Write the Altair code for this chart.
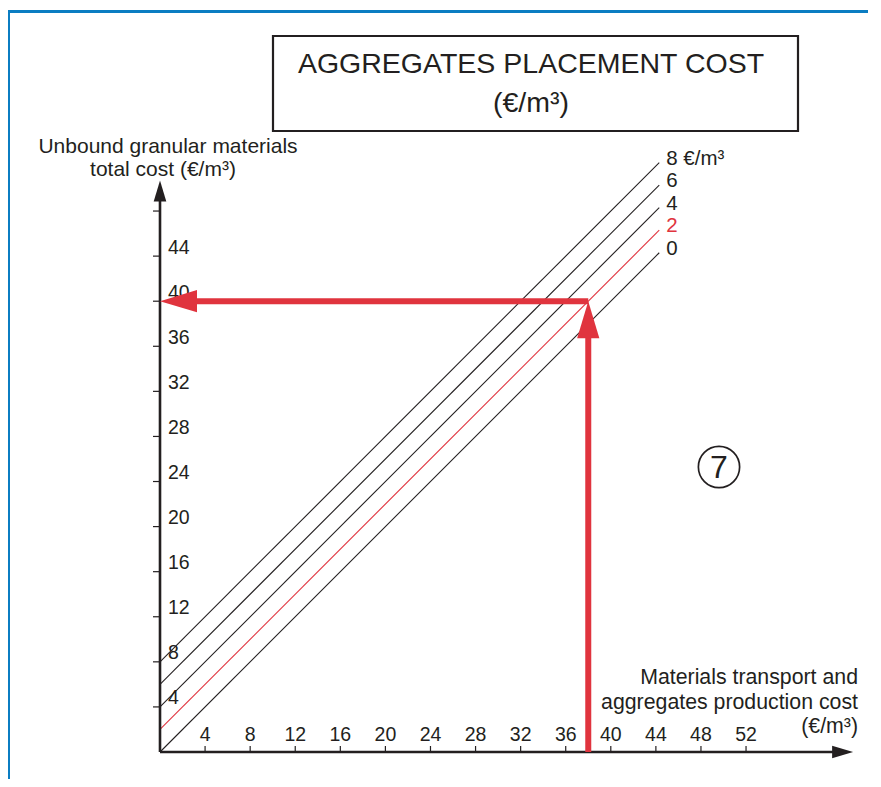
import altair as alt
import pandas as pd

# ---------------- data ----------------
x_ticks = [4, 8, 12, 16, 20, 24, 28, 32, 36, 40, 44, 48, 52]
y_ticks = [4, 8, 12, 16, 20, 24, 28, 32, 36, 40, 44, 48]
y_tick_labels = [4, 8, 12, 16, 20, 24, 28, 32, 36, 40, 44]
placement_costs = [0, 2, 4, 6, 8]
placement_labels = ["0", "2", "4", "6", "8 €/m³"]
line_start_x = 0
line_end_x = 44.3
example_transport = 38      # €/m3 materials transport + production
example_placement = 2       # €/m3 placement cost (red line)
x_axis_end = 61.5
y_axis_end = 50.7

title_lines = ["AGGREGATES PLACEMENT COST", "(€/m³)"]
y_title_lines = ["Unbound granular materials", "total cost (€/m³)"]
x_title_lines = ["Materials transport and", "aggregates production cost", "(€/m³)"]
badge = "7"

# ---------------- styling / layout ----------------
W, H = 860, 771
OX, OY, PX = 152, 744, 11.27
INK = "#231f20"
RED = "#e0343e"
BLUE = "#0b7dc2"
FONT = "Liberation Sans"

xs = alt.Scale(domain=[-OX / PX, (W - OX) / PX], nice=False, zero=False, padding=0)
ys = alt.Scale(domain=[(OY - H) / PX, OY / PX], nice=False, zero=False, padding=0)

one = pd.DataFrame({"k": [0]})

# frame
frame = alt.Chart(one).mark_rect(fillOpacity=0, stroke=BLUE, strokeWidth=3).encode(
    x=alt.value(0.5), x2=alt.value(1200), y=alt.value(3.5), y2=alt.value(1200)
)

# title box
title_box = alt.Chart(one).mark_rect(fill="white", stroke=INK, strokeWidth=2.2).encode(
    x=alt.value(265), x2=alt.value(790), y=alt.value(28), y2=alt.value(123)
)
title1 = alt.Chart(one).mark_text(text=title_lines[0], font=FONT, fontSize=28.5, color=INK,
                                  align="center", baseline="alphabetic").encode(
    x=alt.value(523), y=alt.value(65))
title2 = alt.Chart(one).mark_text(text=title_lines[1], font=FONT, fontSize=28.5, color=INK,
                                  align="center", baseline="alphabetic").encode(
    x=alt.value(523), y=alt.value(104))

# diagonal lines
rows = []
for c in placement_costs:
    rows.append({"cost": c, "x": line_start_x, "y": line_start_x + c})
    rows.append({"cost": c, "x": line_end_x, "y": line_end_x + c})
lines_df = pd.DataFrame(rows)
col_range = [RED if c == example_placement else INK for c in placement_costs]
cscale = alt.Scale(domain=placement_costs, range=col_range)

lines = alt.Chart(lines_df).mark_line(strokeWidth=1.1).encode(
    x=alt.X("x:Q", scale=xs, axis=None),
    y=alt.Y("y:Q", scale=ys, axis=None),
    color=alt.Color("cost:O", scale=cscale, legend=None),
    detail="cost:O",
)

lab_df = pd.DataFrame({
    "cost": placement_costs,
    "label": placement_labels,
    "x": [line_end_x] * len(placement_costs),
    "y": [line_end_x + c for c in placement_costs],
})
line_labels = alt.Chart(lab_df).mark_text(font=FONT, fontSize=20.5, align="left",
                                          baseline="alphabetic", dx=7, dy=2).encode(
    x=alt.X("x:Q", scale=xs, axis=None),
    y=alt.Y("y:Q", scale=ys, axis=None),
    text="label:N",
    color=alt.Color("cost:O", scale=cscale, legend=None),
)

# axes
axes_df = pd.DataFrame({"x0": [0, 0], "y0": [0, 0],
                        "x1": [x_axis_end - 1.6, 0], "y1": [0, y_axis_end - 1.6]})
axis_lines = alt.Chart(axes_df).mark_rule(color=INK, strokeWidth=2.6).encode(
    x=alt.X("x0:Q", scale=xs, axis=None), x2="x1:Q",
    y=alt.Y("y0:Q", scale=ys, axis=None), y2="y1:Q",
)
y_arrow = alt.Chart(pd.DataFrame({"x": [0], "y": [y_axis_end]})).mark_point(
    shape="M0,0L0.6,2L-0.6,2Z", size=441, filled=True, opacity=1, color=INK, strokeWidth=0
).encode(x=alt.X("x:Q", scale=xs, axis=None), y=alt.Y("y:Q", scale=ys, axis=None))
x_arrow = alt.Chart(pd.DataFrame({"x": [x_axis_end], "y": [0]})).mark_point(
    shape="M0,0L-2,-0.6L-2,0.6Z", size=441, filled=True, opacity=1, color=INK, strokeWidth=0
).encode(x=alt.X("x:Q", scale=xs, axis=None), y=alt.Y("y:Q", scale=ys, axis=None))

yt_df = pd.DataFrame({"v": y_ticks, "z": [0] * len(y_ticks)})
y_tick_marks = alt.Chart(yt_df).mark_tick(orient="horizontal", size=7, thickness=1.2,
                                          opacity=1, color=INK, xOffset=-3.5).encode(
    x=alt.X("z:Q", scale=xs, axis=None), y=alt.Y("v:Q", scale=ys, axis=None))
xt_df = pd.DataFrame({"v": x_ticks, "z": [0] * len(x_ticks)})
x_tick_marks = alt.Chart(xt_df).mark_tick(orient="vertical", size=6, thickness=1.2,
                                          opacity=1, color=INK, yOffset=-3).encode(
    x=alt.X("v:Q", scale=xs, axis=None), y=alt.Y("z:Q", scale=ys, axis=None))

yl_df = pd.DataFrame({"v": y_tick_labels, "z": [0] * len(y_tick_labels),
                      "t": [str(v) for v in y_tick_labels]})
y_tick_text = alt.Chart(yl_df).mark_text(font=FONT, fontSize=19.5, color=INK, align="left",
                                         baseline="alphabetic", dx=8, dy=-2.5).encode(
    x=alt.X("z:Q", scale=xs, axis=None), y=alt.Y("v:Q", scale=ys, axis=None), text="t:N")
xl_df = pd.DataFrame({"v": x_ticks, "z": [0] * len(x_ticks), "t": [str(v) for v in x_ticks]})
x_tick_text = alt.Chart(xl_df).mark_text(font=FONT, fontSize=19.5, color=INK, align="center",
                                         baseline="alphabetic", dy=-11).encode(
    x=alt.X("v:Q", scale=xs, axis=None), y=alt.Y("z:Q", scale=ys, axis=None), text="t:N")

# axis titles
def txt(s, x, y, align, size=21.3):
    return alt.Chart(one).mark_text(text=s, font=FONT, fontSize=size, color=INK, align=align,
                                    baseline="alphabetic").encode(x=alt.value(x), y=alt.value(y))

y_title = (txt(y_title_lines[0], 160, 145, "center", 21)
           + txt(y_title_lines[1], 155, 168, "center", 21))
x_title = (txt(x_title_lines[0], 850, 676, "right") + txt(x_title_lines[1], 850, 701, "right")
           + txt(x_title_lines[2], 850, 725, "right"))

# example red path
tip_y = example_transport + example_placement
v_shaft = alt.Chart(pd.DataFrame({"x": [example_transport], "y": [0], "y2": [tip_y - 2]})).mark_rule(
    color=RED, strokeWidth=6).encode(
    x=alt.X("x:Q", scale=xs, axis=None), y=alt.Y("y:Q", scale=ys, axis=None), y2="y2:Q")
h_shaft = alt.Chart(pd.DataFrame({"x": [example_transport], "x2": [2], "y": [tip_y]})).mark_rule(
    color=RED, strokeWidth=6).encode(
    x=alt.X("x:Q", scale=xs, axis=None), x2="x2:Q", y=alt.Y("y:Q", scale=ys, axis=None))
v_head = alt.Chart(pd.DataFrame({"x": [example_transport], "y": [tip_y]})).mark_point(
    shape="M0,0L0.6,2L-0.6,2Z", size=1369, filled=True, opacity=1, color=RED, strokeWidth=0
).encode(x=alt.X("x:Q", scale=xs, axis=None), y=alt.Y("y:Q", scale=ys, axis=None))
h_head = alt.Chart(pd.DataFrame({"x": [0], "y": [tip_y]})).mark_point(
    shape="M0,0L2,-0.6L2,0.6Z", size=1369, filled=True, opacity=1, color=RED, strokeWidth=0
).encode(x=alt.X("x:Q", scale=xs, axis=None), y=alt.Y("y:Q", scale=ys, axis=None))

# badge
badge_circle = alt.Chart(one).mark_point(shape="circle", size=1700, filled=False, opacity=1,
                                         color=INK, strokeWidth=1.7).encode(
    x=alt.value(711), y=alt.value(459))
badge_text = alt.Chart(one).mark_text(text=badge, font=FONT, fontSize=32, color=INK,
                                      align="center", baseline="middle").encode(
    x=alt.value(711), y=alt.value(460))

chart = alt.layer(
    frame, lines, line_labels, axis_lines, y_arrow, x_arrow, y_tick_marks, x_tick_marks,
    y_tick_text, x_tick_text, y_title, x_title, v_shaft, h_shaft, v_head, h_head,
    badge_circle, badge_text, title_box, title1, title2,
).properties(
    width=W, height=H, padding=0, autosize=alt.AutoSizeParams(type="none"), background="white"
).configure_view(stroke=None)

chart.save("out.html", embed_options={"renderer": "svg", "actions": False})
